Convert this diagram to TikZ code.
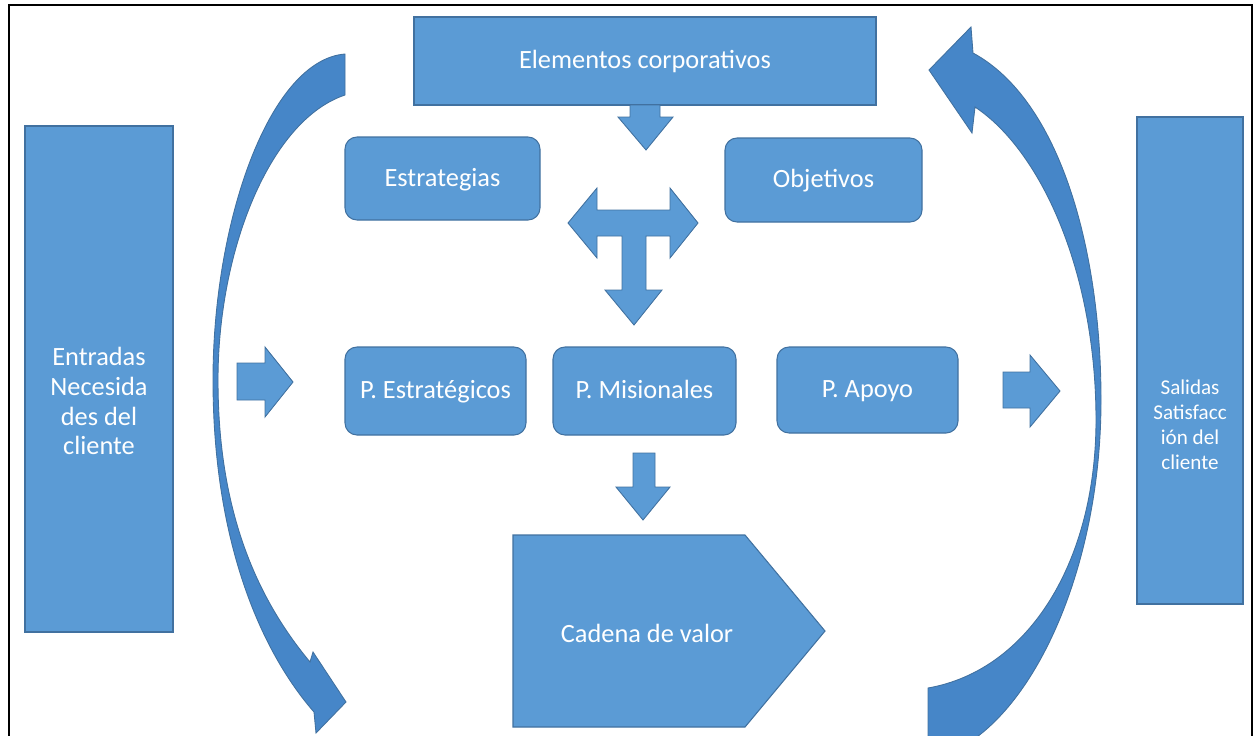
\documentclass[tikz,border=0pt]{standalone}
\usepackage{fontspec}
\setmainfont{Carlito}

\definecolor{boxblue}{RGB}{91,155,213}
\definecolor{edgeblue}{RGB}{65,113,160}
\definecolor{bendblue}{RGB}{70,134,200}
\newlength\px
\setlength\px{0.02cm}

\tikzset{
  box/.style={fill=boxblue, draw=edgeblue, line width=0.6pt, inner sep=0pt},
  roundbox/.style={box, rounded corners=0.24cm, text=white, text height=1em, text depth=0.13em, font=\fontsize{15}{18}\selectfont},
  boxtext/.style={text=white, align=center, inner sep=0pt, font=\fontsize{15}{17}\selectfont},
  blockarrow/.style={fill=boxblue, draw=edgeblue, line width=0.5pt},
  bendarrow/.style={fill=bendblue, draw=edgeblue, line width=0.5pt},
}

\begin{document}
\begin{tikzpicture}[x=0.02cm, y=-0.02cm]
\useasboundingbox (0,0) rectangle (1253,735);
\draw[line width=1.1pt] (9,5) rectangle (1252,760);

% side boxes
\node[box, minimum width=148\px, minimum height=506\px] (entradas) at (99,379) {};
\node[boxtext] (entradastxt) at (99,401) {Entradas\\Necesida\\des del\\cliente};
\node[box, minimum width=106\px, minimum height=487\px] (salidas) at (1190,360.5) {};
\node[boxtext, font=\fontsize{12}{14.2}\selectfont] (salidastxt) at (1190,425) {Salidas\\Satisfacc\\ión del\\cliente};

% top row
\node[box, minimum width=462\px, minimum height=88\px, text=white, font=\fontsize{15}{18}\selectfont] (elementos) at (645,61) {Elementos corporativos};
\node[roundbox, minimum width=195\px, minimum height=83\px] (estrategias) at (442.5,178.5) {Estrategias};
\node[roundbox, minimum width=197\px, minimum height=84\px] (objetivos) at (823.5,180) {Objetivos};

% process row
\node[roundbox, minimum width=181\px, minimum height=88\px] (pestrat) at (435.5,391) {P. Estratégicos};
\node[roundbox, minimum width=183\px, minimum height=88\px] (pmision) at (644.5,391) {P. Misionales};
\node[roundbox, minimum width=181\px, minimum height=86\px] (papoyo) at (867.5,390) {P. Apoyo};

% value chain
\draw[box] (513,535) -- (745,535) -- (825,631) -- (745,727) -- (513,727) -- cycle;
\node[boxtext] (cadena) at (647,633) {Cadena de valor};

% block arrows
\draw[blockarrow] (630,105) -- (660,105) -- (660,117) -- (673,117) -- (646,150) -- (618,117) -- (630,117) -- cycle;
\draw[blockarrow] (622,236) -- (622,290) -- (605,290) -- (634,325) -- (662,290) -- (646,290) -- (646,236)
  -- (670,236) -- (670,258) -- (698,223) -- (670,188) -- (670,210) -- (597,210) -- (597,188)
  -- (568,223) -- (597,258) -- (597,236) -- cycle;
\draw[blockarrow] (237,363) -- (265,363) -- (265,347) -- (293,382) -- (265,417) -- (265,400) -- (237,400) -- cycle;
\draw[blockarrow] (1003,372) -- (1030,372) -- (1030,355) -- (1060,391) -- (1030,427) -- (1030,408) -- (1003,408) -- cycle;
\draw[blockarrow] (633,453) -- (655,453) -- (655,487) -- (670,487) -- (643,520) -- (616,487) -- (633,487) -- cycle;

% curved arrows
\draw[bendarrow] (345,54) .. controls (270,60) and (213,220) .. (213,380)
  .. controls (213,540) and (260,650) .. (314,712)
  -- (316,733) -- (346,702) -- (313,652) -- (310,662)
  .. controls (250,590) and (218,500) .. (218,380)
  .. controls (218,250) and (270,120) .. (345,95) -- cycle;
\draw[bendarrow] (973,53) .. controls (1060,100) and (1101,250) .. (1101,400)
  .. controls (1101,560) and (1040,700) .. (965,745)
  -- (928,745) -- (928,688)
  .. controls (1030,670) and (1096,560) .. (1096,420)
  .. controls (1096,270) and (1040,150) .. (975,107)
  -- (972,133) -- (929,70) -- (971,27) -- cycle;
\end{tikzpicture}
\end{document}
